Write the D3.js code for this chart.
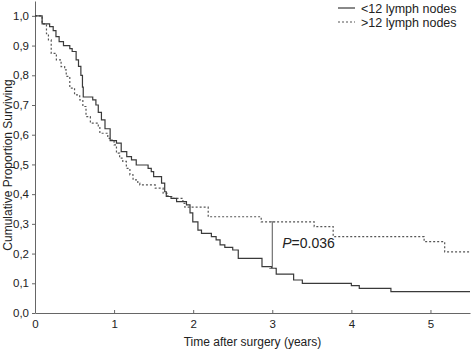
<!DOCTYPE html>
<html>
<head>
<meta charset="utf-8">
<script src="https://cdn.jsdelivr.net/npm/d3@7"></script>
<style>
  body { margin: 0; background: #fff; }
  svg { display: block; font-family: "Liberation Sans", Arial, sans-serif; }
  .axis path, .axis line { stroke: #666; }
  .axis text { fill: #222; font-size: 11.5px; }
</style>
</head>
<body>
<svg width="472" height="349"></svg>
<script>
let svg = d3.select("svg")
let width = 472, height = 349
let margin = {top: 1, right: 2, bottom: 36, left: 35}

// step times (years) and survival after each step
let lowTimes = [0, 0.09, 0.185, 0.23, 0.265, 0.305, 0.36, 0.44, 0.47, 0.52, 0.55, 0.58, 0.6, 0.61,
  0.73, 0.77, 0.8, 0.84, 0.885, 0.95, 1.03, 1.09, 1.16, 1.22, 1.28, 1.43, 1.47, 1.5, 1.6, 1.64,
  1.66, 1.72, 1.79, 1.915, 1.96, 1.995, 2.06, 2.105, 2.23, 2.29, 2.34, 2.4, 2.5, 2.57, 2.87,
  2.99, 3.05, 3.27, 3.38, 4.0, 4.1, 4.5]
let lowSurv = [1.0, 0.973, 0.964, 0.95, 0.93, 0.913, 0.9, 0.89, 0.88, 0.852, 0.83, 0.8, 0.76, 0.727,
  0.717, 0.7, 0.675, 0.65, 0.62, 0.58, 0.572, 0.543, 0.526, 0.515, 0.498, 0.487, 0.476, 0.459, 0.437, 0.408,
  0.392, 0.386, 0.375, 0.364, 0.337, 0.307, 0.279, 0.268, 0.257, 0.246, 0.229, 0.221, 0.212, 0.184, 0.156,
  0.15, 0.131, 0.111, 0.1, 0.092, 0.083, 0.072]

let highTimes = [0, 0.09, 0.145, 0.17, 0.205, 0.27, 0.33, 0.375, 0.395, 0.44, 0.5, 0.565, 0.605, 0.645,
  0.7, 0.8, 0.82, 0.92, 0.945, 1.0, 1.03, 1.07, 1.11, 1.155, 1.2, 1.24, 1.3, 1.325, 1.52, 1.62,
  1.68, 1.745, 1.87, 1.895, 2.19, 2.86, 3.53, 3.77, 4.92, 5.18]
let highSurv = [1.0, 0.973, 0.94, 0.919, 0.874, 0.852, 0.829, 0.818, 0.796, 0.757, 0.734, 0.717, 0.695, 0.661,
  0.639, 0.627, 0.605, 0.588, 0.582, 0.566, 0.538, 0.521, 0.51, 0.487, 0.465, 0.448, 0.437, 0.431, 0.42, 0.403,
  0.392, 0.386, 0.369, 0.356, 0.324, 0.307, 0.291, 0.257, 0.24, 0.206]

let seriesNames = ["<12 lymph nodes", ">12 lymph nodes"]
let xTicks = [0, 1, 2, 3, 4, 5]
let yTicks = [0, 0.1, 0.2, 0.3, 0.4, 0.5, 0.6, 0.7, 0.8, 0.9, 1.0]
let pTime = 3
let pLabel = "=0.036"

let xMax = 5.5
let x = d3.scaleLinear().domain([0, xMax]).range([margin.left, width - margin.right])
let y = d3.scaleLinear().domain([0, 1.05]).range([height - margin.bottom, margin.top])

let toPoints = (times, surv) => {
  let pts = times.map((t, i) => ({t: t, v: surv[i]}))
  pts.push({t: xMax, v: surv[surv.length - 1]})
  return pts
}
let lowPts = toPoints(lowTimes, lowSurv)
let highPts = toPoints(highTimes, highSurv)

let valueAt = (pts, t) => {
  let v = pts[0].v
  pts.forEach(p => { if (p.t <= t) v = p.v })
  return v
}

// axes
let xAxis = d3.axisBottom(x).tickValues(xTicks).tickFormat(d3.format("d"))
  .tickSizeInner(-3).tickSizeOuter(0).tickPadding(7)
let yAxis = d3.axisLeft(y).tickValues(yTicks)
  .tickFormat(d => d3.format(".1f")(d).replace(".", ","))
  .tickSizeInner(3).tickSizeOuter(0).tickPadding(3)

svg.append("g").attr("class", "axis")
  .attr("transform", `translate(0,${height - margin.bottom})`)
  .call(xAxis)
svg.append("g").attr("class", "axis")
  .attr("transform", `translate(${margin.left},0)`)
  .call(yAxis)

svg.append("text")
  .attr("x", (margin.left + width - margin.right) / 2)
  .attr("y", 346)
  .attr("text-anchor", "middle")
  .style("font-size", "12px").style("fill", "#222")
  .text("Time after surgery (years)")

svg.append("text")
  .attr("transform", "translate(12,165) rotate(-90)")
  .attr("text-anchor", "middle")
  .style("font-size", "12px").style("fill", "#222")
  .text("Cumulative Proportion Surviving")

// curves
let line = d3.line().x(d => x(d.t)).y(d => y(d.v)).curve(d3.curveStepAfter)

svg.append("path").datum(highPts)
  .attr("d", line)
  .attr("fill", "none").attr("stroke", "#555").attr("stroke-width", 1.2)
  .attr("stroke-dasharray", "2,2")

svg.append("path").datum(lowPts)
  .attr("d", line)
  .attr("fill", "none").attr("stroke", "#3a3a3a").attr("stroke-width", 1.2)

// p-value marker
let yTop = y(valueAt(highPts, pTime)), yBot = y(valueAt(lowPts, pTime))
let px = x(pTime)
svg.append("line").attr("x1", px).attr("x2", px).attr("y1", yTop).attr("y2", yBot)
  .attr("stroke", "#555").attr("stroke-width", 1)
;[yTop, yBot].forEach(yy => {
  svg.append("line").attr("x1", px - 3).attr("x2", px + 3).attr("y1", yy).attr("y2", yy)
    .attr("stroke", "#777").attr("stroke-width", 1)
})
let pText = svg.append("text")
  .attr("x", px + 10).attr("y", 248)
  .style("font-size", "14px").style("fill", "#222")
pText.append("tspan").style("font-style", "italic").text("P")
pText.append("tspan").text(pLabel)

// legend
let legend = svg.append("g")
seriesNames.forEach((name, i) => {
  let ly = 8 + i * 14
  legend.append("line")
    .attr("x1", 338).attr("x2", 355).attr("y1", ly).attr("y2", ly)
    .attr("stroke", i == 0 ? "#3a3a3a" : "#555").attr("stroke-width", 1.2)
    .attr("stroke-dasharray", i == 0 ? null : "2,2")
  legend.append("text")
    .attr("x", 361).attr("y", ly + 4.5)
    .style("font-size", "12.5px").style("fill", "#222")
    .text(name)
})
</script>
</body>
</html>
